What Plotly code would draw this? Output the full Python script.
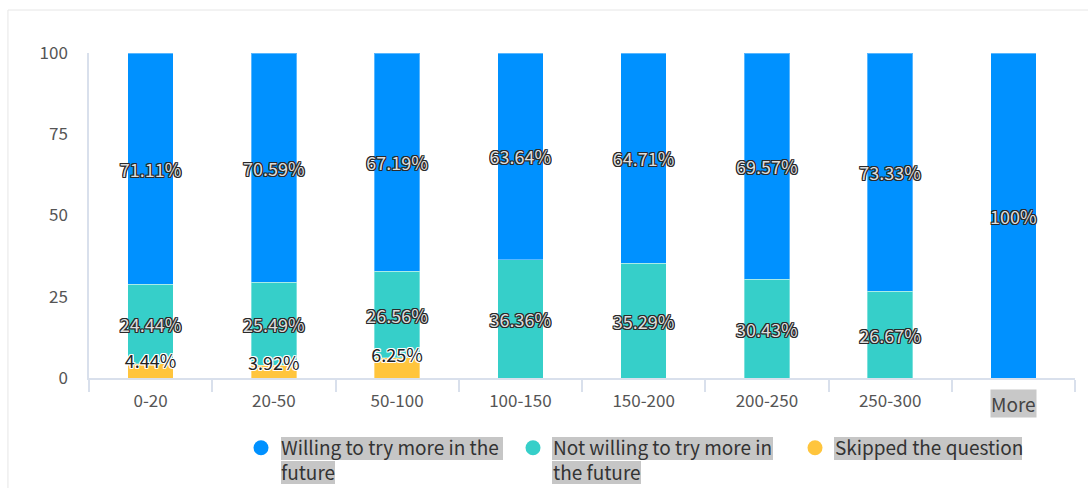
import plotly.graph_objects as go

categories = ["0-20", "20-50", "50-100", "100-150", "150-200", "200-250", "250-300", "More"]
willing = [71.11, 70.59, 67.19, 63.64, 64.71, 69.57, 73.33, 100]
not_willing = [24.44, 25.49, 26.56, 36.36, 35.29, 30.43, 26.67, 0]
skipped = [4.44, 3.92, 6.25, 0, 0, 0, 0, 0]
y_ticks = [0, 25, 50, 75, 100]
legend_names = ["Willing to try more in the<br>future", "Not willing to try more in<br>the future", "Skipped the question"]

BLUE = "#0091FF"
TEAL = "#36CFC9"
YELLOW = "#FFC53D"
FONT = "Noto Sans CJK SC"

def fmt(v):
    if v == 0:
        return ""
    s = ("%.2f" % v).rstrip("0").rstrip(".")
    return s + "%"

def ring(c):
    d = [(1, 1), (-1, -1), (1, -1), (-1, 1), (1, 0), (-1, 0), (0, 1), (0, -1)]
    return ", ".join("%dpx %dpx 0 %s" % (a, b, c) for a, b in d)

fig = go.Figure()
series = [
    (skipped, YELLOW, None),
    (not_willing, TEAL, "#dddddd"),
    (willing, BLUE, "#dddddd"),
]
for vals, col, tcol in series:
    fig.add_trace(go.Bar(
        x=categories, y=vals,
        marker=dict(color=col, line=dict(color="rgba(255,255,255,0.35)", width=1)),
        text=[fmt(v) for v in vals] if tcol else None,
        textposition="inside" if tcol else "none",
        insidetextanchor="middle",
        textangle=0,
        constraintext="none",
        textfont=dict(family=FONT, size=18, color=tcol or "#222", shadow=ring("#2a2a2a")),
        showlegend=False,
        hoverinfo="skip",
    ))

# labels for the thin "skipped" segments, drawn on top at the segment top
fig.add_trace(go.Scatter(
    x=categories, y=skipped, mode="text",
    text=[fmt(v) for v in skipped], textposition="middle center",
    textfont=dict(family=FONT, size=18, color="#222", shadow=ring("rgba(255,255,255,0.9)")),
    showlegend=False, hoverinfo="skip", cliponaxis=False,
))

legend_ids = ["legend", "legend2", "legend3"]
for name, col, lg in zip(legend_names, [BLUE, TEAL, YELLOW], legend_ids):
    fig.add_trace(go.Scatter(
        x=[None], y=[None], mode="markers", name=name, legend=lg,
        marker=dict(color=col, size=15, symbol="circle"),
    ))

tick_text = [c if c != "More" else "" for c in categories]

legend_common = dict(
    orientation="v", xref="container", yref="container",
    xanchor="left", yanchor="top", y=0.121, valign="top",
    font=dict(family=FONT, size=19, color="#333"),
    itemwidth=30, bgcolor="rgba(0,0,0,0)", borderwidth=0,
)

fig.update_layout(
    barmode="stack",
    bargap=0.63,
    width=1088, height=488,
    margin=dict(l=89, r=13, t=53, b=110, autoexpand=False),
    paper_bgcolor="white",
    plot_bgcolor="white",
    uniformtext=dict(minsize=18, mode="show"),
    font=dict(family=FONT, color="#555"),
    xaxis=dict(
        type="category", automargin=False,
        categoryorder="array", categoryarray=categories,
        tickvals=categories, ticktext=tick_text,
        showline=True, linecolor="#D9E0EC", linewidth=1.5,
        ticks="outside", tickson="boundaries", ticklen=12, tickcolor="#D9E0EC", tickwidth=1.5,
        tickfont=dict(size=17, color="#555"),
        ticklabelstandoff=7,
        showgrid=False, zeroline=False,
    ),
    yaxis=dict(
        range=[0, 100], tickvals=y_ticks, automargin=False,
        showline=True, linecolor="#D9E0EC", linewidth=1.5,
        showgrid=False, zeroline=False,
        ticks="", ticklabelstandoff=16,
        tickfont=dict(size=17, color="#555"),
    ),
    legend=dict(legend_common, x=241 / 1088),
    legend2=dict(legend_common, x=513 / 1088),
    legend3=dict(legend_common, x=795 / 1088),
    showlegend=True,
)

# "More" tick label with grey highlight
fig.add_annotation(
    x="More", y=0, xref="x", yref="y", yanchor="top", yshift=-11,
    text="More", showarrow=False,
    font=dict(family=FONT, size=19, color="#444"),
    bgcolor="#C8C8C8", borderpad=0,
)

# grey highlight behind legend text lines (paper coords)
def px2paper(px, py):
    return (px - 89) / 986, (378 - py) / 325

highlights = [
    (281, 503, 437, 460), (281, 335, 461, 484),
    (552, 773, 437, 460), (552, 641, 461, 484),
    (834, 1022, 437, 460),
]
for x0p, x1p, y0p, y1p in highlights:
    x0, y1 = px2paper(x0p, y0p)
    x1, y0 = px2paper(x1p, y1p)
    fig.add_shape(type="rect", xref="paper", yref="paper",
                  x0=x0, x1=x1, y0=y0, y1=y1,
                  fillcolor="#C6C6C6", line=dict(width=0), layer="below")

# outer container border (left and top visible)
fig.add_shape(type="rect", xref="paper", yref="paper",
              x0=-0.0822, x1=1.2, y0=-0.6, y1=1.1323,
              line=dict(color="#E6E6E6", width=1), layer="below")

fig.write_html("out.html")
